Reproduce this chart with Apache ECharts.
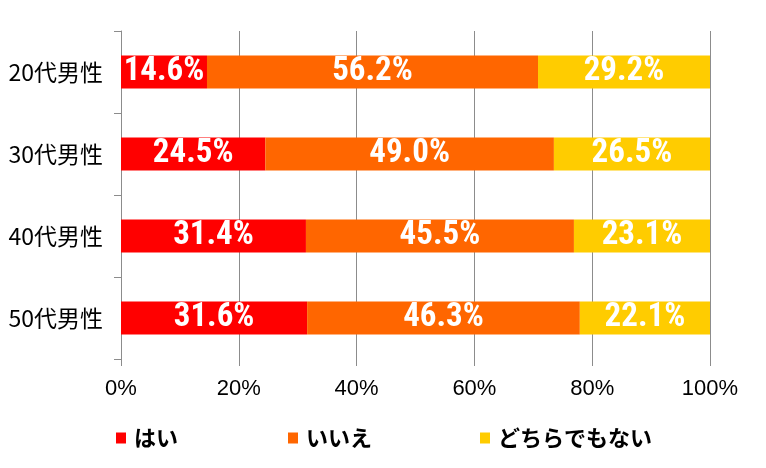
<!DOCTYPE html>
<html><head><meta charset="utf-8">
<script src="https://cdn.jsdelivr.net/npm/echarts@6/dist/echarts.min.js"></script>
<style>html,body{margin:0;padding:0;background:#fff}#c{width:766px;height:468px}</style>
</head><body><div id="c"></div>
<script>
const categories = ['20代男性','30代男性','40代男性','50代男性'];
const seriesNames = ['はい','いいえ','どちらでもない'];
const yes = [14.6, 24.5, 31.4, 31.6];
const no = [56.2, 49.0, 45.5, 46.3];
const neither = [29.2, 26.5, 23.1, 22.1];
const colors = ['#ff0000','#ff6600','#ffcc00'];
const cjk = '"Hiragino Sans","Noto Sans CJK JP",sans-serif';
const chart = echarts.init(document.getElementById('c'));
const lbl = {
  show: true, position: 'inside', color: '#fff',
  fontFamily: '"Roboto Condensed",Roboto,sans-serif',
  fontWeight: 'bold', fontSize: 33,
  formatter: p => p.value.toFixed(1) + '%'
};
const mk = (name, data, i) => ({
  name, type: 'bar', stack: 'a', data, barWidth: 33,
  itemStyle: { color: colors[i] }, label: lbl
});
const legendLefts = [111, 283, 475];
chart.setOption({
  animation: false,
  grid: { left: 121, right: 56, top: 31, bottom: 109 },
  legend: seriesNames.map((n, i) => ({
    data: [n], left: legendLefts[i], top: 422, itemWidth: 10, itemHeight: 11,
    itemGap: 4, icon: 'rect',
    textStyle: { fontFamily: cjk, fontSize: 22, fontWeight: 'bold', color: '#000', padding: [0,0,0,3] }
  })),
  xAxis: {
    type: 'value', min: 0, max: 100, interval: 20,
    axisLine: { show: false },
    axisTick: { show: true, length: 7, lineStyle: { color: '#8c8c8c' } },
    splitLine: { show: true, lineStyle: { color: '#8c8c8c', width: 1 } },
    axisLabel: { formatter: '{value}%', color: '#000', fontSize: 22, margin: 19,
      fontFamily: '"Liberation Sans",Arial,sans-serif' }
  },
  yAxis: {
    type: 'category', data: categories, inverse: true,
    axisLine: { show: true, lineStyle: { color: '#8c8c8c' } },
    axisTick: { show: true, length: 7, lineStyle: { color: '#8c8c8c' } },
    axisLabel: { color: '#000', fontSize: 23, margin: 18, fontFamily: cjk }
  },
  series: [mk(seriesNames[0], yes, 0), mk(seriesNames[1], no, 1), mk(seriesNames[2], neither, 2)]
});
</script></body></html>
